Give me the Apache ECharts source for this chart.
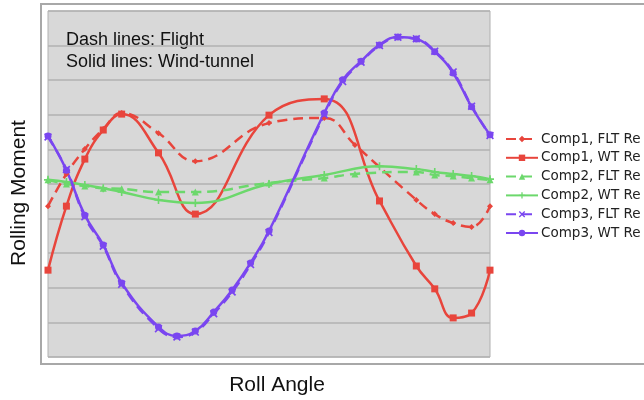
<!DOCTYPE html>
<html><head><meta charset="utf-8">
<script src="https://cdn.jsdelivr.net/npm/echarts@6/dist/echarts.min.js"></script>
<style>html,body{margin:0;padding:0;background:#fff}#c{width:644px;height:400px}</style>
</head><body><div id="c"></div>
<script>
// Roll angle (deg) sample positions
const xWT = [0,15,30,45,60,90,120,180,225,270,300,315,330,345,360];
const xFLT = [0,15,30,45,60,90,120,180,225,250,300,315,330,345,360];
const x3 = [0,15,30,45,60,90,105,120,135,150,165,180,225,240,255,270,285,300,315,330,345,360];

const comp1FLT = [-0.64,0.29,1.01,1.59,2.05,1.47,0.66,1.76,1.91,1.13,-0.46,-0.87,-1.13,-1.24,-0.64];
const comp1WT  = [-2.49,-0.64,0.72,1.56,2.02,0.90,-0.87,1.99,2.46,-0.49,-2.37,-3.03,-3.87,-3.73,-2.49];
const comp2FLT = [0.12,0.00,-0.06,-0.12,-0.14,-0.23,-0.23,0.03,0.17,0.29,0.35,0.26,0.23,0.17,0.12];
const comp2WT  = [0.12,0.06,-0.03,-0.12,-0.23,-0.46,-0.55,0.00,0.26,0.51,0.43,0.35,0.29,0.23,0.14];
const comp3FLT = [1.36,0.42,-0.95,-1.80,-2.90,-4.18,-4.42,-4.28,-3.75,-3.12,-2.33,-1.40,2.00,2.96,3.52,4.00,4.24,4.20,3.84,3.24,2.25,1.40];
const comp3WT  = [1.39,0.40,-0.90,-1.76,-2.86,-4.13,-4.39,-4.25,-3.70,-3.06,-2.28,-1.36,2.05,3.01,3.55,4.02,4.25,4.19,3.82,3.21,2.23,1.42];

const names = ['Comp1, FLT Re','Comp1, WT Re','Comp2, FLT Re','Comp2, WT Re','Comp3, FLT Re','Comp3, WT Re'];

const RED='#e8453c', GREEN='#6cd86c', PURPLE='#7a46f0';
const pair = (xs, ys) => xs.map((x,i)=>[x, ys[i]]);
const XSYM='path://M0,1.5L1.5,0L5,3.5L8.5,0L10,1.5L6.5,5L10,8.5L8.5,10L5,6.5L1.5,10L0,8.5L3.5,5Z';
const PSYM='path://M4,0H6V4H10V6H6V10H4V6H0V4H4Z';

function ser(name, data, color, dashed, symbol, size){
  return {
    name, type:'line', data, smooth:0.45, symbol, symbolSize:size,
    lineStyle:{color, width:2.5, type: dashed ? [10,6] : 'solid'},
    itemStyle:{color},
    emphasis:{disabled:true}
  };
}
const FONT='"Liberation Sans", Arial, sans-serif';

const chart = echarts.init(document.getElementById('c'), null, {renderer:'canvas'});
chart.setOption({
  animation:false,
  backgroundColor:'#fff',
  graphic:[
    {type:'rect', z:-10, shape:{x:41,y:4,width:620,height:360}, style:{fill:'#fff', stroke:'#a8a8a8', lineWidth:2}},
    {type:'text', x:66, y:40, style:{text:'Dash lines: Flight', fontSize:18, fontFamily:FONT, fill:'#111', verticalAlign:'middle'}},
    {type:'text', x:66, y:62, style:{text:'Solid lines: Wind-tunnel', fontSize:18, fontFamily:FONT, fill:'#111', verticalAlign:'middle'}},
    {type:'text', x:277, y:385, style:{text:'Roll Angle', fontSize:21, fontFamily:FONT, fill:'#111', align:'center', verticalAlign:'middle'}},
    {type:'text', x:19, y:193, rotation:Math.PI/2, style:{text:'Rolling Moment', fontSize:21, fontFamily:FONT, fill:'#111', align:'center', verticalAlign:'middle'}}
  ],
  grid:{left:48, top:11, width:442, height:346, show:true, backgroundColor:'#d8d8d8', borderColor:'#b0b0b0', borderWidth:1},
  xAxis:{type:'value', min:0, max:360, interval:30, axisLabel:{show:false}, axisTick:{show:false}, axisLine:{show:false}, splitLine:{show:false}},
  yAxis:{type:'value', min:-5, max:5, interval:1, axisLabel:{show:false}, axisTick:{show:false}, axisLine:{show:false},
    splitLine:{show:true, lineStyle:{color:'#b2b2b2', width:1.5}}},
  legend:{
    orient:'vertical', left:500, top:127, itemWidth:32, itemHeight:8, itemGap:4.8,
    textStyle:{fontFamily:'"DejaVu Sans", Verdana, sans-serif', fontSize:13.5, color:'#222', lineHeight:14, padding:[0,0,0,-2]},
    data:names
  },
  series:[
    ser(names[0], pair(xFLT, comp1FLT), RED, true, 'diamond', 6),
    ser(names[1], pair(xWT, comp1WT), RED, false, 'rect', 7),
    ser(names[2], pair(xFLT, comp2FLT), GREEN, true, 'triangle', 7),
    ser(names[3], pair(xWT, comp2WT), GREEN, false, PSYM, 8),
    ser(names[4], pair(x3, comp3FLT), PURPLE, true, XSYM, 8),
    ser(names[5], pair(x3, comp3WT), PURPLE, false, 'circle', 7)
  ]
});
</script></body></html>
